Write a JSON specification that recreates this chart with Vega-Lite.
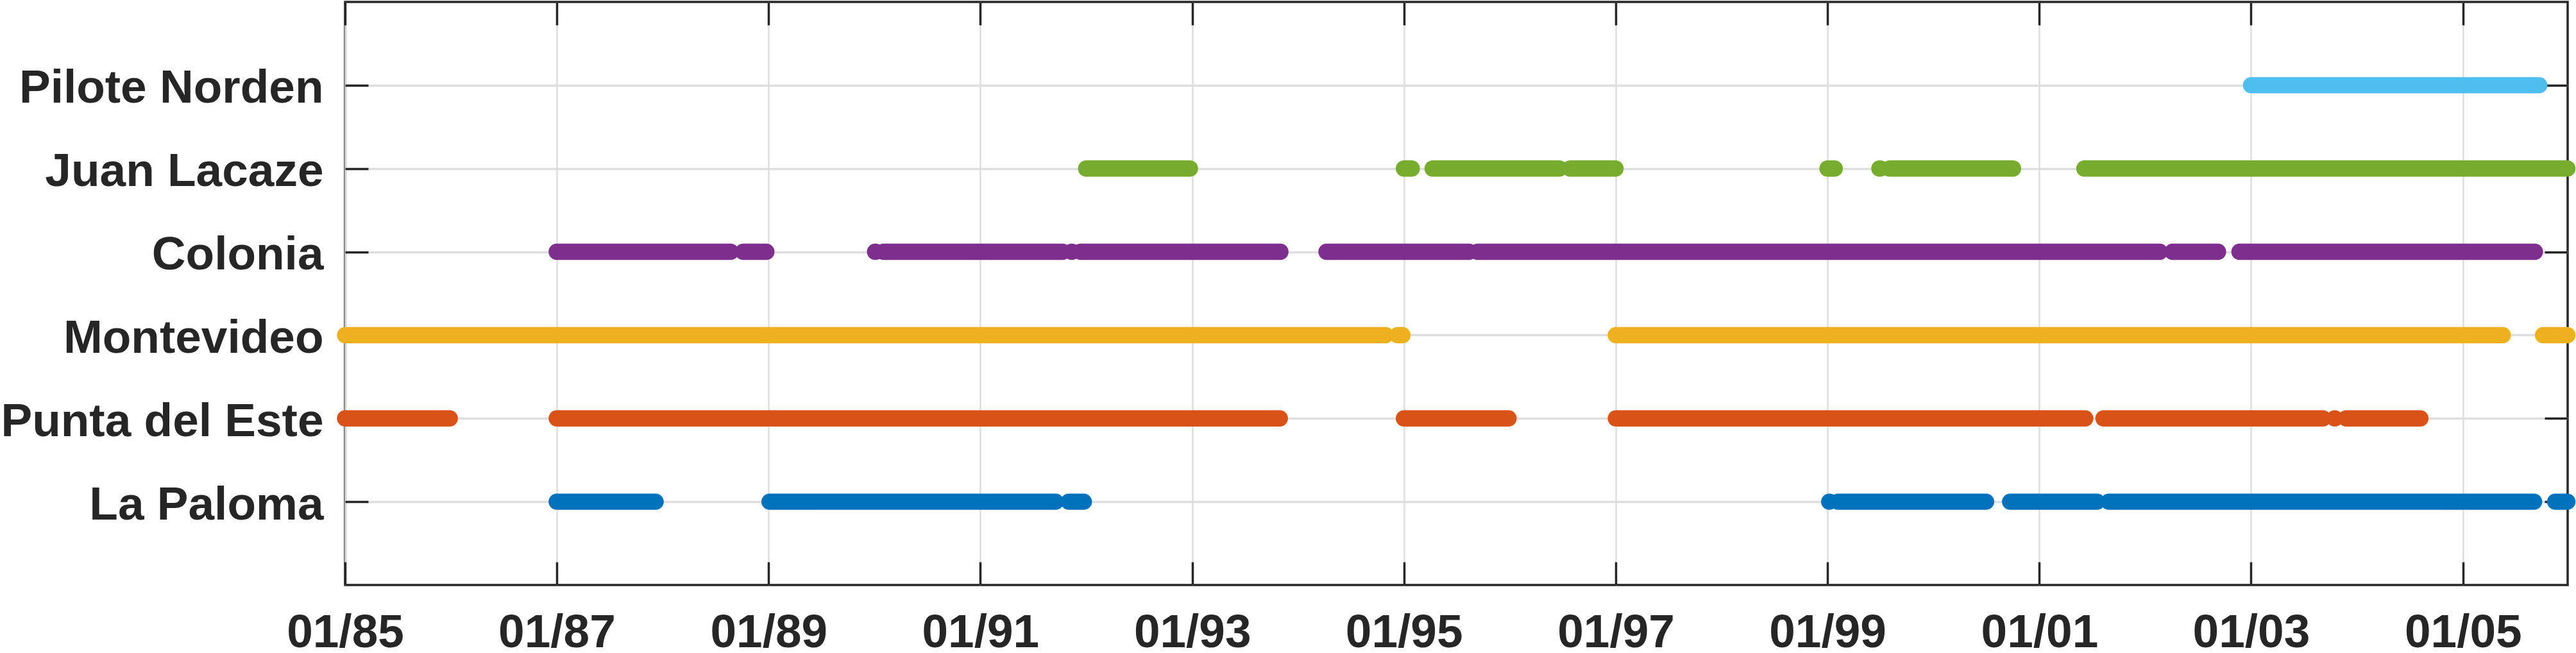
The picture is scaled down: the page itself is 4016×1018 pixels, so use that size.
{
  "$schema": "https://vega.github.io/schema/vega-lite/v6.json",
  "autosize": {"type": "none"},
  "padding": {"left": 538, "top": 3, "right": 13, "bottom": 106},
  "width": 3465,
  "height": 909,
  "background": "white",
  "config": {
    "view": {"stroke": "#262626", "strokeWidth": 3.5},
    "axis": {
      "labelFont": "Liberation Sans",
      "labelFontWeight": "bold",
      "labelFontSize": 73,
      "labelColor": "#262626",
      "labelLimit": 0,
      "tickColor": "#262626",
      "tickWidth": 3.5,
      "tickSize": -36,
      "domain": false,
      "title": null,
      "labelOverlap": false,
      "labelFlush": false,
      "labelBound": false
    }
  },
  "data": {
    "values": [
      {"station": "Punta del Este", "s": "1985/01/01", "e": "1985/12/28"},
      {"station": "Punta del Este", "s": "1987/01/01", "e": "1993/10/30"},
      {"station": "Punta del Este", "s": "1995/01/01", "e": "1995/12/28"},
      {"station": "Punta del Este", "s": "1997/01/01", "e": "2001/06/08"},
      {"station": "Punta del Este", "s": "2001/08/10", "e": "2003/09/06"},
      {"station": "Punta del Este", "s": "2003/10/16", "e": "2003/10/17"},
      {"station": "Punta del Este", "s": "2003/11/25", "e": "2004/08/07"},
      {"station": "Montevideo", "s": "1985/01/01", "e": "1994/10/30"},
      {"station": "Montevideo", "s": "1994/12/10", "e": "1994/12/27"},
      {"station": "Montevideo", "s": "1997/01/01", "e": "2005/05/18"},
      {"station": "Montevideo", "s": "2005/10/04", "e": "2005/12/27"},
      {"station": "La Paloma", "s": "1987/01/01", "e": "1987/12/08"},
      {"station": "La Paloma", "s": "1989/01/04", "e": "1991/09/18"},
      {"station": "La Paloma", "s": "1991/11/02", "e": "1991/12/24"},
      {"station": "La Paloma", "s": "1999/01/07", "e": "1999/01/08"},
      {"station": "La Paloma", "s": "1999/02/06", "e": "2000/07/01"},
      {"station": "La Paloma", "s": "2000/09/22", "e": "2001/07/19"},
      {"station": "La Paloma", "s": "2001/08/28", "e": "2005/09/03"},
      {"station": "La Paloma", "s": "2005/11/15", "e": "2005/12/27"},
      {"station": "Colonia", "s": "1987/01/01", "e": "1988/08/23"},
      {"station": "Colonia", "s": "1988/10/05", "e": "1988/12/24"},
      {"station": "Colonia", "s": "1990/01/03", "e": "1990/01/05"},
      {"station": "Colonia", "s": "1990/02/01", "e": "1991/10/12"},
      {"station": "Colonia", "s": "1991/11/12", "e": "1991/11/13"},
      {"station": "Colonia", "s": "1991/12/13", "e": "1993/11/01"},
      {"station": "Colonia", "s": "1994/04/09", "e": "1995/08/14"},
      {"station": "Colonia", "s": "1995/09/12", "e": "2002/02/20"},
      {"station": "Colonia", "s": "2002/04/05", "e": "2002/09/09"},
      {"station": "Colonia", "s": "2002/11/22", "e": "2005/09/06"},
      {"station": "Juan Lacaze", "s": "1992/01/01", "e": "1992/12/24"},
      {"station": "Juan Lacaze", "s": "1995/01/01", "e": "1995/01/28"},
      {"station": "Juan Lacaze", "s": "1995/04/10", "e": "1996/06/20"},
      {"station": "Juan Lacaze", "s": "1996/07/27", "e": "1996/12/31"},
      {"station": "Juan Lacaze", "s": "1999/01/01", "e": "1999/01/26"},
      {"station": "Juan Lacaze", "s": "1999/06/29", "e": "1999/07/02"},
      {"station": "Juan Lacaze", "s": "1999/08/03", "e": "2000/10/02"},
      {"station": "Juan Lacaze", "s": "2001/06/05", "e": "2005/12/27"},
      {"station": "Pilote Norden", "s": "2003/01/01", "e": "2005/09/21"}
    ]
  },
  "layer": [
    {
      "mark": {"type": "rule", "strokeWidth": 25.4, "strokeCap": "round"},
      "encoding": {
        "x": {
          "field": "s",
          "type": "temporal",
          "scale": {
            "domain": [{"year": 1985, "month": 1, "date": 1}, {"year": 2005, "month": 12, "date": 28}],
            "nice": false
          },
          "axis": {
            "orient": "bottom",
            "values": [
              {"year": 1985, "month": 1, "date": 1}, {"year": 1987, "month": 1, "date": 1},
              {"year": 1989, "month": 1, "date": 1}, {"year": 1991, "month": 1, "date": 1},
              {"year": 1993, "month": 1, "date": 1}, {"year": 1995, "month": 1, "date": 1},
              {"year": 1997, "month": 1, "date": 1}, {"year": 1999, "month": 1, "date": 1},
              {"year": 2001, "month": 1, "date": 1}, {"year": 2003, "month": 1, "date": 1},
              {"year": 2005, "month": 1, "date": 1}
            ],
            "format": "%m/%y",
            "labelPadding": 74,
            "grid": true,
            "gridColor": "#dedede",
            "gridWidth": 2.5
          }
        },
        "x2": {"field": "e"},
        "y": {
          "field": "station",
          "type": "nominal",
          "sort": ["Pilote Norden", "Juan Lacaze", "Colonia", "Montevideo", "Punta del Este", "La Paloma"],
          "scale": {"type": "point", "padding": 1},
          "axis": {
            "orient": "left",
            "labelPadding": 70,
            "labelOffset": 5,
            "grid": true,
            "gridColor": "#dedede",
            "gridWidth": 3.5
          }
        },
        "color": {
          "field": "station",
          "type": "nominal",
          "scale": {
            "domain": ["La Paloma", "Punta del Este", "Montevideo", "Colonia", "Juan Lacaze", "Pilote Norden"],
            "range": ["#0072BD", "#D95319", "#EDB120", "#7E2F8E", "#77AC30", "#4DBEEE"]
          },
          "legend": null
        }
      }
    },
    {
      "mark": {"type": "rule", "opacity": 0},
      "encoding": {
        "x": {
          "field": "s",
          "type": "temporal",
          "axis": {
            "orient": "top",
            "labels": false,
            "grid": false,
            "values": [
              {"year": 1985, "month": 1, "date": 1}, {"year": 1987, "month": 1, "date": 1},
              {"year": 1989, "month": 1, "date": 1}, {"year": 1991, "month": 1, "date": 1},
              {"year": 1993, "month": 1, "date": 1}, {"year": 1995, "month": 1, "date": 1},
              {"year": 1997, "month": 1, "date": 1}, {"year": 1999, "month": 1, "date": 1},
              {"year": 2001, "month": 1, "date": 1}, {"year": 2003, "month": 1, "date": 1},
              {"year": 2005, "month": 1, "date": 1}
            ]
          }
        },
        "x2": {"field": "e"},
        "y": {
          "field": "station",
          "type": "nominal",
          "sort": ["Pilote Norden", "Juan Lacaze", "Colonia", "Montevideo", "Punta del Este", "La Paloma"],
          "axis": {"orient": "right", "labels": false, "grid": false}
        }
      }
    }
  ],
  "resolve": {"axis": {"x": "independent", "y": "independent"}}
}
